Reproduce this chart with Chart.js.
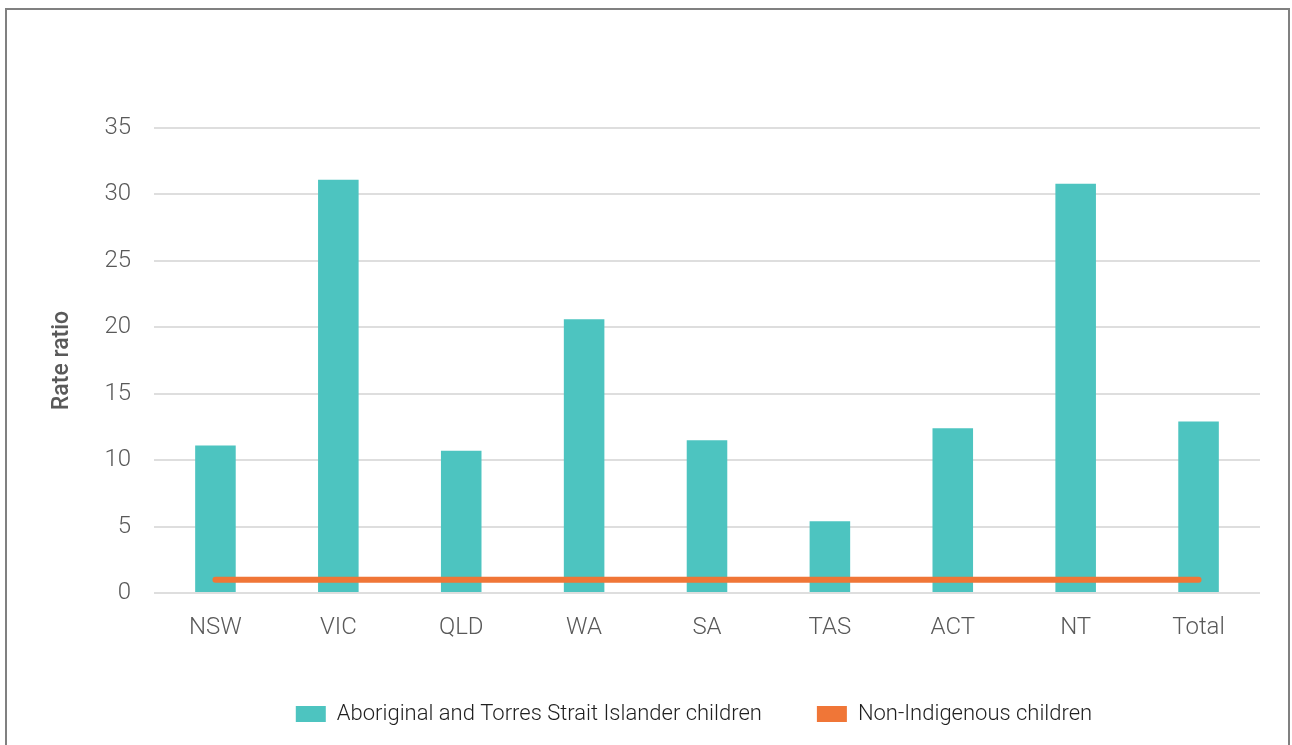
<!DOCTYPE html>
<html>
<head>
<meta charset="utf-8">
<script src="https://cdn.jsdelivr.net/npm/chart.js@4.4.1/dist/chart.umd.min.js"></script>
<style>
  html, body { margin: 0; padding: 0; background: #fff; }
  #wrap { position: relative; width: 1292px; height: 745px; overflow: hidden; }
  #frame { position: absolute; left: 5px; top: 8px; width: 1281px; height: 760px; border: 2px solid #808080; pointer-events: none; }
  canvas { position: absolute; left: 0; top: 0; }
</style>
</head>
<body>
<div id="wrap">
  <canvas id="chart" width="1292" height="745"></canvas>
  <div id="frame"></div>
</div>
<script>
// 数据
const states = ['NSW', 'VIC', 'QLD', 'WA', 'SA', 'TAS', 'ACT', 'NT', 'Total'];
const indigenousRatio = [11.1, 31.1, 10.7, 20.6, 11.5, 5.4, 12.4, 30.8, 12.9];
const nonIndigenousRatio = [1, 1, 1, 1, 1, 1, 1, 1, 1];
const yTicks = [0, 5, 10, 15, 20, 25, 30, 35];

const tickFont = { family: 'Roboto', size: 24, weight: '300' };

const chart = new Chart(document.getElementById('chart'), {
    data: {
        labels: states,
        datasets: [
            {
                type: 'bar',
                label: 'Aboriginal and Torres Strait Islander children',
                data: indigenousRatio,
                backgroundColor: '#4dc4c0',
                categoryPercentage: 1,
                barPercentage: 0.33,
                order: 1
            },
            {
                type: 'line',
                label: 'Non-Indigenous children',
                data: nonIndigenousRatio,
                borderColor: '#f07637',
                backgroundColor: '#f07637',
                borderWidth: 6,
                borderCapStyle: 'round',
                pointRadius: 0,
                order: 0
            }
        ]
    },
    options: {
        responsive: false,
        animation: false,
        layout: { padding: { left: 96, right: 0, top: 128, bottom: 10 } },
        plugins: {
            tooltip: { enabled: false },
            legend: {
                position: 'bottom',
                labels: {
                    boxWidth: 30,
                    boxHeight: 16,
                    padding: 55,
                    color: '#1f1f1f',
                    font: { family: 'Roboto', size: 22, weight: '300' },
                    sort: (a, b) => a.datasetIndex - b.datasetIndex,
                    generateLabels: function(c) {
                        // 图例方块不带描边
                        const items = Chart.defaults.plugins.legend.labels.generateLabels(c);
                        items.forEach(it => { it.lineWidth = 0; });
                        return items;
                    }
                }
            }
        },
        scales: {
            x: {
                grid: { display: false },
                border: { display: false },
                ticks: { color: '#595959', font: tickFont, padding: 13 },
                afterFit: function(scale) { scale.height = 55; }
            },
            y: {
                min: 0,
                max: 35,
                afterBuildTicks: function(scale) {
                    scale.ticks = yTicks.map(v => ({ value: v }));
                },
                grid: { color: '#dedede', lineWidth: 2, drawTicks: false },
                border: { display: false },
                ticks: { color: '#595959', font: tickFont, padding: 23 },
                title: {
                    display: true,
                    text: 'Rate ratio',
                    color: '#595959',
                    padding: { top: -48, bottom: 0 },
                    font: { family: 'Roboto', size: 23, weight: '500' }
                },
                afterFit: function(scale) { scale.width = 58; }
            },
            yRight: {
                position: 'right',
                display: true,
                grid: { display: false },
                border: { display: false },
                ticks: { display: false },
                afterFit: function(scale) { scale.width = 32; }
            }
        }
    }
});
</script>
</body>
</html>
